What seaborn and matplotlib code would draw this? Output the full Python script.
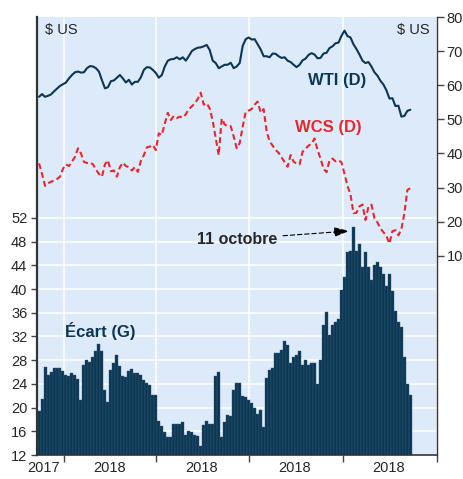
import matplotlib
matplotlib.use('Agg')
import matplotlib.pyplot as plt
import matplotlib.dates as mdates
import seaborn as sns
import numpy as np
import pandas as pd

# values, about every 3 days, Dec 2017 -> Dec 2018
wti = [56.6, 57.4, 56.6, 56.9, 57.3, 58.2, 59.0, 59.8, 60.3, 60.8,
       62.0, 63.0, 63.8, 64.0, 63.7, 63.8, 65.0, 65.6, 65.5, 65.0,
       64.0, 61.5, 59.1, 59.4, 61.2, 61.4, 62.2, 63.0, 62.0, 60.8,
       61.6, 60.2, 61.0, 61.0, 62.3, 64.5, 65.3, 65.2, 64.5, 63.6,
       62.2, 63.0, 65.5, 67.2, 67.6, 67.7, 68.2, 67.6, 68.2, 67.2,
       68.5, 70.0, 70.6, 71.0, 71.1, 71.4, 71.8, 70.3, 67.2, 66.5,
       65.0, 65.5, 66.0, 66.0, 66.6, 65.0, 65.5, 66.5, 71.5, 73.5,
       74.0, 73.4, 73.5, 72.0, 70.5, 68.5, 68.5, 68.2, 69.3, 69.2,
       68.5, 68.0, 68.2, 67.2, 66.8, 66.0, 65.3, 66.0, 67.3, 67.8,
       68.9, 69.4, 69.0, 67.9, 68.0, 69.3, 69.5, 70.9, 71.4, 72.3,
       72.5, 74.5, 76.0, 74.4, 74.0, 72.0, 70.6, 69.0, 67.2, 66.5,
       66.8, 65.5, 63.8, 62.8, 61.3, 60.2, 58.5, 56.1, 56.2, 53.9,
       54.0, 50.8, 51.0, 52.5, 52.8]

wcs = [37.1, 34.0, 30.5, 31.3, 31.7, 32.0, 32.5, 33.2, 35.5, 36.8,
       36.3, 37.6, 39.0, 41.5, 40.0, 37.5, 37.2, 37.4, 36.8, 35.3,
       34.0, 33.2, 36.8, 38.0, 34.8, 35.0, 33.2, 36.0, 37.3, 36.3,
       36.0, 35.0, 36.0, 34.6, 37.8, 39.5, 41.8, 42.0, 42.5, 41.0,
       45.9, 45.4, 48.8, 51.9, 49.8, 51.0, 50.4, 50.8, 50.5, 51.5,
       53.0, 53.8, 54.6, 56.0, 57.8, 54.3, 54.7, 53.2, 49.5, 44.5,
       39.5, 50.2, 48.5, 48.0, 48.0, 45.0, 41.5, 43.0, 47.8, 52.2,
       52.6, 53.0, 54.3, 55.2, 52.0, 53.0, 46.5, 43.5, 42.3, 41.0,
       40.2, 38.8, 37.5, 36.1, 39.5, 37.6, 37.0, 36.8, 40.5, 41.4,
       42.3, 42.8, 44.4, 41.0, 38.5, 35.5, 34.5, 38.0, 38.5, 37.7,
       38.0, 37.4, 34.0, 30.5, 28.0, 22.5, 22.6, 24.5, 25.0, 20.5,
       24.4, 25.0, 21.0, 19.8, 18.0, 16.9, 15.8, 13.6, 17.2, 17.5,
       16.0, 17.8, 22.5, 29.3, 29.8]

ecart = [19.4, 21.5, 26.9, 25.5, 26.0, 26.6, 26.6, 26.6, 26.2, 25.5,
         25.3, 25.8, 25.5, 24.8, 21.2, 27.2, 28.0, 27.7, 28.6, 29.6,
         30.7, 29.5, 23.0, 21.0, 26.3, 27.5, 28.8, 27.0, 25.3, 25.2,
         26.2, 26.5, 25.8, 25.9, 25.5, 24.6, 24.2, 23.8, 22.2, 22.1,
         17.8, 16.9, 15.9, 15.0, 15.0, 17.2, 17.2, 17.2, 17.5, 15.3,
         16.1, 15.9, 15.4, 15.2, 13.5, 17.1, 17.7, 17.2, 17.3, 25.4,
         26.0, 15.1, 17.5, 18.7, 18.5, 23.0, 24.1, 24.1, 22.0, 21.8,
         21.2, 20.8, 19.9, 19.0, 19.6, 16.8, 25.0, 26.4, 26.6, 29.2,
         29.2, 29.8, 31.3, 30.5, 27.5, 28.6, 28.9, 29.5, 27.2, 28.0,
         27.2, 27.5, 27.5, 24.0, 28.1, 33.9, 36.2, 32.3, 33.9, 34.5,
         35.0, 39.8, 42.1, 46.3, 46.5, 50.4, 46.5, 47.6, 43.8, 46.2,
         43.8, 41.5, 44.0, 44.6, 43.8, 42.6, 40.5, 42.5, 39.6, 36.3,
         34.5, 33.6, 28.6, 24.0, 22.1]

start, end = '2017-12-08', '2018-12-06'
quarters = ['2018-01-01', '2018-04-01', '2018-07-01', '2018-10-01', '2019-01-01']
label_dates = ['2017-12-12', '2018-02-15', '2018-05-16', '2018-08-15', '2018-11-15']
label_text = ['2017', '2018', '2018', '2018', '2018']
left_ticks = np.arange(12, 53, 4)
right_ticks = np.arange(10, 81, 10)

navy = '#0b3654'
red = '#e8262f'
bg = '#dceafa'


def day_nums(n):
    return mdates.date2num(pd.date_range(start, end, periods=n))


sns.set_style('ticks')
plt.rcParams['font.family'] = ['Liberation Sans', 'DejaVu Sans']
plt.rcParams['font.size'] = 10

fig = plt.figure(figsize=(4.63, 4.79), dpi=100)
ax = fig.add_axes([0.0799, 0.0501, 0.8639, 0.9144])
ax.set_facecolor(bg)

bars = pd.DataFrame({'date': day_nums(len(ecart)), 'ecart': ecart})
sns.barplot(data=bars, x='date', y='ecart', native_scale=True, orient='x',
            width=1.0, color=navy, saturation=1, edgecolor='#3a5d7a',
            linewidth=0.3, errorbar=None, ax=ax)

ax2 = ax.twinx()
lines = pd.DataFrame({'date': day_nums(len(wti)), 'wti': wti})
sns.lineplot(data=lines, x='date', y='wti', color=navy, lw=1.5,
             estimator=None, sort=False, ax=ax2)
lines2 = pd.DataFrame({'date': day_nums(len(wcs)), 'wcs': wcs})
sns.lineplot(data=lines2, x='date', y='wcs', color=red, lw=1.5,
             linestyle=(0, (2.8, 1.6)), estimator=None, sort=False, ax=ax2)

# axes limits and ticks
ax.set_xlim(mdates.date2num(pd.Timestamp('2017-12-06')),
            mdates.date2num(pd.Timestamp('2019-01-01')))
ax.set_ylim(12, 85.9)
ax2.set_ylim(-48.4, 80)
ax.set_yticks(left_ticks)
ax2.set_yticks(right_ticks)
ax.set_xticks(mdates.date2num(pd.to_datetime(quarters)))
ax.set_xticklabels([])
ax.set_xticks(mdates.date2num(pd.to_datetime(label_dates)), label_text, minor=True)
ax.tick_params(axis='x', which='minor', length=0, pad=4, labelsize=10.5)
ax.tick_params(axis='x', which='major', length=5, width=1, color='#444444')
ax.tick_params(axis='y', length=4, width=1, color='#444444', labelsize=10.5, pad=3)
ax2.tick_params(axis='y', length=5, width=1, color='#444444', labelsize=10.5, pad=2)
ax.set_xlabel('')
ax.set_ylabel('')
ax2.set_xlabel('')
ax2.set_ylabel('')

ax.grid(True, which='major', color='white', lw=1.1)
ax.set_axisbelow(True)
ax2.grid(False)

for s in ['top', 'right']:
    ax.spines[s].set_visible(False)
for s in ['top', 'left', 'bottom']:
    ax2.spines[s].set_visible(False)
ax.spines['left'].set_color('#333333')
ax.spines['left'].set_linewidth(1.6)
ax.spines['bottom'].set_color('#333333')
ax.spines['bottom'].set_linewidth(1.2)
ax2.spines['right'].set_color('#333333')
ax2.spines['right'].set_linewidth(1.0)

# text
ax.text(0.02, 0.97, '$ US', transform=ax.transAxes, ha='left', va='center', fontsize=10.5)
ax.text(0.9825, 0.97, '$ US', transform=ax.transAxes, ha='right', va='center', fontsize=10.5)
ax.text(0.751, 0.856, 'WTI (D)', transform=ax.transAxes, ha='center', va='center',
        fontsize=12, fontweight='bold', color=navy)
ax.text(0.7275, 0.748, 'WCS (D)', transform=ax.transAxes, ha='center', va='center',
        fontsize=12, fontweight='bold', color=red)
ax.text(0.1575, 0.284, 'Écart (G)', transform=ax.transAxes, ha='center', va='center',
        fontsize=12, fontweight='bold', color=navy)

peak = int(np.argmax(ecart))
ax2.annotate('11 octobre',
             xy=(bars['date'][peak] - 4, 80 - (85.9 - ecart[peak] + 0.6) * (128.4 / 73.9)),
             xytext=(0.6, 0.493), textcoords='axes fraction',
             ha='right', va='center', fontsize=11.5, fontweight='bold',
             arrowprops=dict(arrowstyle='-|>,head_length=0.8,head_width=0.25',
                             linestyle=(0, (4, 2.5)), lw=0.8, color='black',
                             shrinkA=2, shrinkB=0))

fig.savefig('out.png', dpi=100)
